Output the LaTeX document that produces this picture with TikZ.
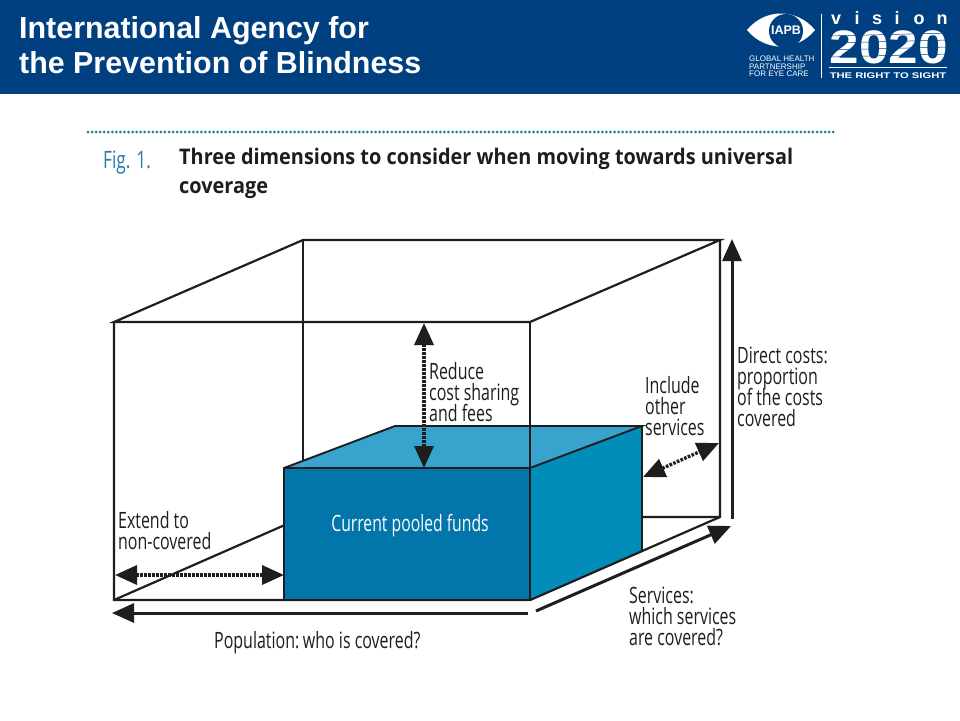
\documentclass[tikz,border=0pt]{standalone}
\usepackage{fontspec}
\setmainfont{Open Sans}
\newfontfamily\arial{Liberation Sans}
\usetikzlibrary{arrows.meta}
\definecolor{hdr}{RGB}{0,64,128}
\definecolor{front}{RGB}{2,117,170}
\definecolor{sidef}{RGB}{2,140,186}
\definecolor{topf}{RGB}{56,163,204}
\definecolor{ink}{RGB}{30,30,30}
\definecolor{figc}{RGB}{40,125,165}
\definecolor{dotc}{RGB}{30,125,140}
\newcommand\labfont{\fontsize{22.5}{21}\selectfont\setlength{\lineskiplimit}{-10pt}}
\tikzset{
  edge/.style={draw=ink,line width=2.2pt},
  boxedge/.style={draw=ink,line width=1.9pt},
  dim/.style={draw=ink,line width=3pt,-{Triangle[length=22pt,width=19pt]}},
  twoway/.style={draw=ink,line width=3.4pt,dash pattern=on 2.6pt off 1.4pt,{Triangle[length=22pt,width=19pt,sep=0pt]}-{Triangle[length=22pt,width=19pt]}},
  lab/.style={inner sep=0pt,xscale=.71,align=left,anchor=north west,font=\labfont,text=ink},
  logo/.style={inner sep=0pt,text=white},
}
\begin{document}
\begin{tikzpicture}[x=1pt,y=-1pt]
\useasboundingbox (0,0) rectangle (960,720);
\fill[white] (0,0) rectangle (960,720);
\fill[hdr] (0,0) rectangle (960,94);
% header
\node[logo,anchor=west,align=left,font=\arial\bfseries\fontsize{30.4}{35}\selectfont] (title) at (19,45) {International Agency for\\the Prevention of Blindness};
% logo
\fill[white] (747,30) .. controls (765,8) and (797,8) .. (815,30) .. controls (797,52) and (765,52) .. (747,30) -- cycle;
\fill[hdr] (786,31) circle (17);
\node[logo,font=\arial\bfseries\fontsize{12.5}{13}\selectfont] (iapb) at (786,30) {IAPB};
\node[logo,align=left,anchor=north west,font=\arial\fontsize{8}{7.6}\selectfont] (ghp) at (749,56) {GLOBAL HEALTH\\PARTNERSHIP\\FOR EYE CARE};
\draw[white,line width=.9pt] (821,14) -- (821,78);
\foreach \l/\x in {v/836,i/857,s/877,i/897,o/919,n/942}
  \node[logo,anchor=base,font=\arial\bfseries\fontsize{18}{18}\selectfont] at (\x,24) {\l};
\node[logo,anchor=base,xscale=1.13,font=\arial\bfseries\fontsize{47}{47}\selectfont] (yr) at (889,63) {2020};
\foreach \y in {36,43,50,57}
  \draw[hdr,line width=.5pt] (828,\y) -- (950,\y-3);
\draw[white,line width=.7pt] (829,67.5) -- (947,67.5);
\node[logo,xscale=1.37,font=\arial\bfseries\fontsize{8.2}{8.2}\selectfont] (sight) at (888,76) {THE RIGHT TO SIGHT};
% rule and caption
\coordinate (r1) at (88,132); \coordinate (r2) at (835,132);
\draw[dotc,line width=3pt,line cap=round,dash pattern=on 0pt off 4.05pt] (r1) -- (r2);
\node[inner sep=0pt,anchor=west,xscale=.72,text=figc,font=\fontsize{24}{24}\selectfont] (fig) at (103,163) {Fig. 1.};
\node[inner sep=0pt,anchor=north west,align=left,xscale=.925,text=ink,font=\bfseries\fontsize{21.5}{29}\selectfont] (cap) at (179,148) {Three dimensions to consider when moving towards universal\\coverage};
% wire box
\coordinate (fa) at (114,322); \coordinate (fb) at (530,322);
\coordinate (fc) at (530,600); \coordinate (fd) at (114,600);
\coordinate (ba) at (303,240); \coordinate (bb) at (720,240);
\coordinate (bc) at (720,517); \coordinate (bd) at (303,517);
\draw[edge] (fa) -- (fb) -- (bb) -- (ba) -- cycle;
\draw[edge] (fa) -- (fd) -- (fc) -- (bc) -- (bb);
\draw[edge] (fb) -- (fc);
\draw[edge] (ba) -- (bd);
\draw[edge] (fd) -- (bd) -- (bc);
% pooled funds box
\coordinate (pa) at (284,468); \coordinate (pb) at (530,468);
\coordinate (pc) at (530,600); \coordinate (pd) at (284,600);
\coordinate (pe) at (395,426); \coordinate (pf) at (642,426);
\coordinate (pg) at (642,551);
\fill[topf] (pa) -- (pe) -- (pf) -- (pb) -- cycle;
\fill[sidef] (pb) -- (pf) -- (pg) -- (pc) -- cycle;
\fill[front] (pa) -- (pb) -- (pc) -- (pd) -- cycle;
\draw[boxedge] (pa) -- (pe) -- (pf) -- (pb) -- (pa) -- (pd) -- (pc) -- (pg);
\draw[boxedge] (pf) -- (pg);
\draw[boxedge] (pb) -- (pc);
\draw[boxedge] (303,426) -- (303,460);
\draw[boxedge] (530,426) -- (530,468);
\node[inner sep=0pt,xscale=.70,text=white,font=\fontsize{22.5}{22}\selectfont] (pool) at (410,525.5) {Current pooled funds};
% dimensions
\coordinate (d1) at (732,519); \coordinate (d2) at (732,239);
\coordinate (s1) at (536,611); \coordinate (s2) at (731,526);
\coordinate (p1) at (528,613); \coordinate (p2) at (112,613);
\draw[dim] (d1) -- (d2);
\draw[dim] (s1) -- (s2);
\draw[dim] (p1) -- (p2);
% two-way arrows
\coordinate (e1) at (115,575); \coordinate (e2) at (284,575);
\coordinate (u1) at (424,323); \coordinate (u2) at (424,468);
\coordinate (i1) at (643,477); \coordinate (i2) at (719,443);
\draw[twoway] (e1) -- (e2);
\draw[twoway] (u1) -- (u2);
\draw[twoway] (i1) -- (i2);
% labels
\node[lab] (lext) at (118,511) {Extend to\\non-covered};
\node[lab] (lred) at (429,362) {Reduce\\cost sharing\\and fees};
\node[lab] (linc) at (645,376) {Include\\other\\services};
\node[lab] (ldir) at (737,347) {Direct costs:\\proportion\\of the costs\\covered};
\node[lab] (lser) at (629,587) {Services:\\which services\\are covered?};
\node[lab] (lpop) at (214,631) {Population:\hspace{-.12em} who is covered?};
\end{tikzpicture}
\end{document}
